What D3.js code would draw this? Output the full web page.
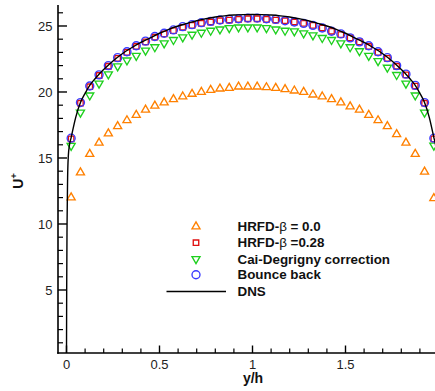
<!DOCTYPE html>
<html><head><meta charset="utf-8">
<script src="https://cdn.jsdelivr.net/npm/d3@7/dist/d3.min.js"></script>
<style>body{margin:0;background:#fff;}svg{display:block;font-family:"Liberation Sans",Arial,sans-serif;}</style>
</head><body>
<svg id="c" width="435" height="391"></svg>
<script>
// sample positions y/h
const yPos = [0.025,0.075,0.125,0.175,0.225,0.275,0.325,0.375,0.425,0.475,0.525,0.575,0.625,0.675,0.725,0.775,0.825,0.875,0.925,0.975,
              1.025,1.075,1.125,1.175,1.225,1.275,1.325,1.375,1.425,1.475,1.525,1.575,1.625,1.675,1.725,1.775,1.825,1.875,1.925,1.975];
const hrfd0 = [12.0,13.9,15.3,16.15,16.85,17.4,17.85,18.25,18.65,18.95,19.2,19.45,19.65,19.85,20.0,20.15,20.25,20.3,20.4,20.4,
               20.4,20.35,20.3,20.2,20.1,20.0,19.8,19.65,19.45,19.2,18.9,18.65,18.25,17.85,17.4,16.8,16.15,15.3,13.95,11.95];
const hrfd028 = [16.45,19.15,20.4,21.25,21.95,22.55,23.0,23.45,23.8,24.15,24.4,24.65,24.9,25.05,25.2,25.3,25.4,25.45,25.5,25.55,
                 25.55,25.5,25.45,25.4,25.3,25.2,25.05,24.85,24.6,24.35,24.1,23.8,23.45,23.0,22.55,21.95,21.3,20.45,19.15,16.45];
const caiDeg = [15.93,18.45,19.75,20.65,21.35,21.95,22.4,22.75,23.15,23.4,23.7,23.95,24.15,24.35,24.5,24.65,24.75,24.85,24.9,24.9,
                24.9,24.85,24.75,24.65,24.6,24.45,24.3,24.1,23.95,23.7,23.4,23.1,22.75,22.35,21.85,21.3,20.65,19.75,18.45,15.95];
const bounce = [16.5,19.2,20.45,21.3,22.0,22.6,23.05,23.5,23.85,24.2,24.45,24.7,24.95,25.1,25.25,25.35,25.45,25.5,25.55,25.6,
                25.6,25.55,25.5,25.4,25.3,25.2,25.05,24.85,24.6,24.4,24.1,23.8,23.5,23.05,22.6,22.0,21.35,20.5,19.2,16.5];
// DNS profile
const dnsY = [0,0.001,0.003,0.006,0.01,0.015,0.025,0.05,0.075,0.1,0.125,0.15,0.175,0.2,0.25,0.3,0.35,0.4,0.45,0.5,0.55,0.6,0.65,0.7,0.75,0.8,0.85,0.9,0.95,1.0,
              1.05,1.1,1.15,1.2,1.25,1.3,1.35,1.4,1.45,1.5,1.55,1.6,1.65,1.7,1.75,1.8,1.825,1.85,1.875,1.9,1.925,1.95,1.975,1.985,1.99,1.994,1.997,1.999,2.0];
const dnsU = [0,5,10,13.5,15.2,15.9,16.55,18.1,19.2,19.9,20.5,20.95,21.35,21.7,22.35,22.9,23.35,23.75,24.1,24.45,24.75,25.0,25.2,25.4,25.55,25.68,25.77,25.83,25.86,25.87,
              25.86,25.83,25.77,25.68,25.55,25.4,25.2,25.0,24.75,24.45,24.1,23.75,23.35,22.9,22.35,21.7,21.35,20.95,20.5,19.9,19.2,18.1,16.55,15.9,15.2,13.5,10,5,0];
const xTicks = [0,0.5,1,1.5];
const yTicks = [5,10,15,20,25];
const legendLabels = ["HRFD-β = 0.0","HRFD-β =0.28","Cai-Degrigny correction","Bounce back","DNS"];

const svg = d3.select("#c");
const x = d3.scaleLinear().domain([-0.0457, 2.0]).range([58, 438.5]);
const y = d3.scaleLinear().domain([0.227, 26.59]).range([353, 5]);

svg.append("clipPath").attr("id","clip").append("rect")
  .attr("x",58).attr("y",5).attr("width",380.5).attr("height",348);

const plot = svg.append("g").attr("clip-path","url(#clip)");

const sw = 1.35;
const triUp = d3.symbol().type(d3.symbolTriangle).size(28);
const sq = d3.symbol().type(d3.symbolSquare).size(30);

function tri(g, data, color, down){
  g.selectAll(null).data(data).join("path")
    .attr("d", triUp())
    .attr("transform", d => `translate(${x(d[0])},${y(d[1])})${down?" rotate(180)":""}`)
    .attr("fill","none").attr("stroke",color).attr("stroke-width",sw);
}
tri(plot, yPos.map((v,i)=>[v,hrfd0[i]]), "#ff8000", false);
tri(plot, yPos.map((v,i)=>[v,caiDeg[i]]), "#1ed01e", true);
plot.selectAll(null).data(yPos.map((v,i)=>[v,hrfd028[i]])).join("path")
  .attr("d", sq()).attr("transform", d=>`translate(${x(d[0])},${y(d[1])})`)
  .attr("fill","none").attr("stroke","#e01010").attr("stroke-width",sw);
plot.selectAll(null).data(yPos.map((v,i)=>[v,bounce[i]])).join("circle")
  .attr("cx", d=>x(d[0])).attr("cy", d=>y(d[1])).attr("r",4)
  .attr("fill","none").attr("stroke","#3a3aff").attr("stroke-width",sw);
plot.append("path")
  .datum(dnsY.map((v,i)=>[v,dnsU[i]]))
  .attr("d", d3.line().x(d=>x(d[0])).y(d=>y(d[1])).curve(d3.curveMonotoneX))
  .attr("fill","none").attr("stroke","#000").attr("stroke-width",1.4);

// axes
const axG = svg.append("g");
axG.append("line").attr("x1",58).attr("x2",58).attr("y1",5).attr("y2",353.8).attr("stroke","#000").attr("stroke-width",1.6);
axG.append("line").attr("x1",57.2).attr("x2",438).attr("y1",353).attr("y2",353).attr("stroke","#000").attr("stroke-width",1.6);
// y ticks
const yMinor = d3.range(1,27).filter(v=>v%5!==0);
axG.selectAll(null).data(yMinor).join("line")
  .attr("x1",58).attr("x2",63).attr("y1",d=>y(d)).attr("y2",d=>y(d)).attr("stroke","#000").attr("stroke-width",1.2);
axG.selectAll(null).data(yTicks).join("line")
  .attr("x1",58).attr("x2",67).attr("y1",d=>y(d)).attr("y2",d=>y(d)).attr("stroke","#000").attr("stroke-width",1.4);
axG.selectAll(null).data(yTicks).join("text")
  .attr("x",52.5).attr("y",d=>y(d)+4.6).attr("text-anchor","end")
  .attr("font-size",13).attr("fill","#222").text(d=>d);
// x ticks
const xMinor = d3.range(0,20).map(i=>i/10).filter(v=>Math.abs(v*2-Math.round(v*2))>1e-6);
axG.selectAll(null).data(xMinor).join("line")
  .attr("x1",d=>x(d)).attr("x2",d=>x(d)).attr("y1",353).attr("y2",348.5).attr("stroke","#000").attr("stroke-width",1.2);
axG.selectAll(null).data(xTicks).join("line")
  .attr("x1",d=>x(d)).attr("x2",d=>x(d)).attr("y1",353).attr("y2",345.5).attr("stroke","#000").attr("stroke-width",1.4);
axG.selectAll(null).data(xTicks).join("text")
  .attr("x",d=>x(d)).attr("y",368.5).attr("text-anchor","middle")
  .attr("font-size",13).attr("fill","#222").text(d=>d);

// axis titles
svg.append("text").attr("x",253).attr("y",383).attr("text-anchor","middle")
  .attr("font-size",14).attr("font-weight","bold").attr("fill","#111").text("y/h");
const yl = svg.append("text").attr("transform","translate(22.5,181) rotate(-90)")
  .attr("text-anchor","middle").attr("font-size",14).attr("font-weight","bold").attr("fill","#111");
yl.append("tspan").text("U");
yl.append("tspan").attr("dy",-6).attr("font-size",9).text("+");

// legend
const lgY = [226.5,242.7,259,274.7,291.5];
const lg = svg.append("g");
lg.append("path").attr("d",triUp()).attr("transform",`translate(196,${lgY[0]})`).attr("fill","none").attr("stroke","#ff8000").attr("stroke-width",sw);
lg.append("path").attr("d",sq()).attr("transform",`translate(196,${lgY[1]})`).attr("fill","none").attr("stroke","#e01010").attr("stroke-width",sw);
lg.append("path").attr("d",triUp()).attr("transform",`translate(196,${lgY[2]}) rotate(180)`).attr("fill","none").attr("stroke","#1ed01e").attr("stroke-width",sw);
lg.append("circle").attr("cx",196).attr("cy",lgY[3]).attr("r",4).attr("fill","none").attr("stroke","#3a3aff").attr("stroke-width",sw);
lg.append("line").attr("x1",166.5).attr("x2",226).attr("y1",lgY[4]).attr("y2",lgY[4]).attr("stroke","#000").attr("stroke-width",1.4);
legendLabels.forEach((t,i)=>{
  const tx = lg.append("text").attr("x",237.5).attr("y",lgY[i]+4.6)
    .attr("font-size",13.4).attr("font-weight","bold").attr("fill","#111");
  if (t.includes("β")) {
    const parts = t.split("β");
    tx.append("tspan").text(parts[0]);
    tx.append("tspan").attr("font-weight","normal").text("β");
    tx.append("tspan").text(parts[1]);
  } else tx.text(t);
});
</script>
</body></html>
